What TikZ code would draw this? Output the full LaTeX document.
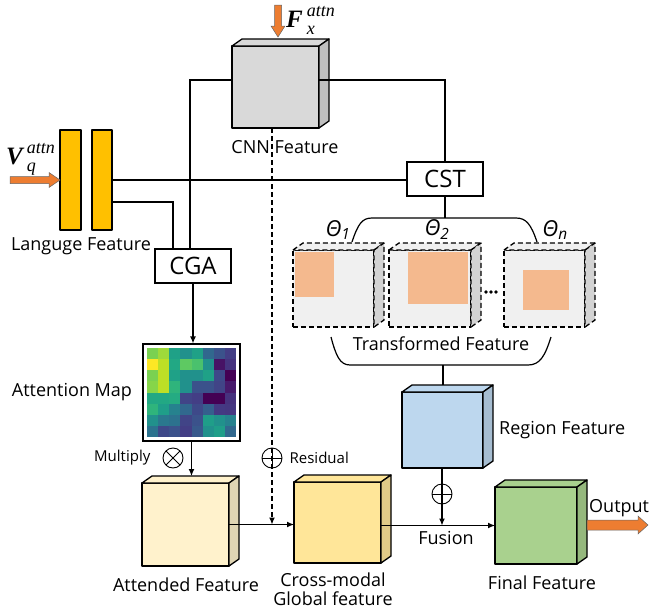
\documentclass[tikz,border=0pt]{standalone}
\usepackage{amsmath,amssymb}
\usepackage{fontspec}
\setmainfont{Open Sans}
\newfontfamily\symfont{Liberation Serif}
\usetikzlibrary{positioning,calc,arrows.meta}

\definecolor{cnngray}{HTML}{D9D9D9}
\definecolor{langyellow}{HTML}{FFC000}
\definecolor{inorange}{HTML}{ED7D31}
\definecolor{patchorange}{HTML}{F4B98E}
\definecolor{tfgray}{HTML}{F0F0F0}
\definecolor{attyellow}{HTML}{FFF2CC}
\definecolor{crossyellow}{HTML}{FFE699}
\definecolor{regionblue}{HTML}{BDD7EE}
\definecolor{finalgreen}{HTML}{A9D18E}

\tikzset{
  cubeedge/.style={draw=black,line width=1.3pt,line join=round},
  cubeface/.style={cubeedge,inner sep=0pt,outer sep=0pt},
  tfdash/.style={dash pattern=on 5pt off 3pt},
  opbox/.style={draw,line width=1.3pt,minimum width=76,minimum height=34,inner sep=0pt,
    font=\fontsize{24}{26}\selectfont},
  lab/.style={font=\fontsize{18}{21}\selectfont,inner sep=1pt},
  smalllab/.style={font=\fontsize{15}{17}\selectfont,inner sep=1pt},
  oplus/.style={circle,draw,line width=0.9pt,minimum size=20,inner sep=0pt,
    path picture={\draw[line width=0.9pt] (path picture bounding box.north) -- (path picture bounding box.south)
      (path picture bounding box.west) -- (path picture bounding box.east);}},
  otimes/.style={circle,draw,line width=0.9pt,minimum size=20,inner sep=0pt,
    path picture={\draw[line width=0.9pt] (path picture bounding box.center) ++(45:12) -- ++(225:24)
      (path picture bounding box.center) ++(135:12) -- ++(315:24);}},
  wire/.style={line width=1.2pt},
  conn/.style={line width=1.2pt,-{Latex[length=7pt,width=6pt]}},
  blockarrow/.style={fill=inorange,draw=black!60,line width=0.5pt},
}

% top and side faces behind a front face node
\newcommand{\cubedepth}[3][solid]{%
  \draw[cubeedge,#1,fill=#3] (#2.north west) -- ++(10,-7) -- ($(#2.north east)+(10,-7)$)
     -- (#2.north east) -- cycle;
  \draw[cubeedge,#1,fill=#3!88!black] (#2.north east) -- ++(10,-7) -- ($(#2.south east)+(10,-7)$)
     -- (#2.south east) -- cycle;
}
% bold letter with attn / index stacked on its right
\newcommand{\attnvar}[2]{{\symfont\fontsize{25}{25}\selectfont\bfseries\itshape #1}%
  \kern4pt\raisebox{1pt}{\symfont\itshape\fontsize{18}{18}\selectfont
  \begin{tabular}{@{}l@{}}attn\\#2\end{tabular}}}

\begin{document}
\begin{tikzpicture}[x=1pt,y=-1pt]
\useasboundingbox (0,0) rectangle (649,614);

%% inputs
\draw[blockarrow] (274.5,5) -- (274.5,26) -- (271,26) -- (278,37) -- (285,26) -- (281.5,26) -- (281.5,5) -- cycle;
\node[anchor=base west,inner sep=0pt] (flab) at (286,27) {\attnvar{F}{x}};

\node[cubeface,fill=cnngray,minimum width=87,minimum height=82] (cnn) at (275.5,87) {};
\cubedepth{cnn}{cnngray}
\node[lab] (cnnlab) at (285,147) {CNN Feature};

\node[cubeface,fill=langyellow,minimum width=21,minimum height=100] (lang1) at (70.5,180) {};
\node[cubeface,fill=langyellow,minimum width=20,minimum height=100] (lang2) at (102,180) {};
\draw[blockarrow] (10,176.5) -- (49,176.5) -- (49,172.5) -- (60,180) -- (49,187.5) -- (49,183.5) -- (10,183.5) -- cycle;
\node[anchor=base west,inner sep=0pt] (vlab) at (6,164) {\attnvar{V}{q}};
\node[lab] (langlab) at (81,246) {Languge Feature};

%% CST branch
\node[opbox] (cst) at (445,179) {CST};
\node[opbox] (cga) at (193,266) {CGA};

\draw[wire] ([yshift=7pt]cnn.west) -| ([xshift=-3pt]cga.north);
\draw[wire] ([yshift=7pt]cnn.east) -| (cst.north);
\draw[wire] (lang2.east) -- (lang2.east -| cst.west);
\draw[wire] ([yshift=-22pt]lang2.east) -| ([xshift=-20pt]cga.north);

\coordinate (tbrace) at (445,218);
\draw[wire] (cst.south) -- (tbrace);
\draw[wire] (352,242) .. controls (358,224) and (362,218) .. (372,218) -- (516,218)
   .. controls (526,218) and (531,224) .. (537,242);

\node[font=\fontsize{22}{24}\selectfont\itshape,inner sep=0pt] (th1) at (338,230) {Θ\textsubscript{1}};
\node[font=\fontsize{22}{24}\selectfont\itshape,inner sep=0pt] (th2) at (437,230) {Θ\textsubscript{2}};
\node[font=\fontsize{22}{24}\selectfont\itshape,inner sep=0pt] (thn) at (555,230) {Θ\textsubscript{n}};

%% transformed features
\node[cubeface,tfdash,fill=tfgray,minimum width=81,minimum height=77] (tf1) at (333.5,288.5) {};
\cubedepth[tfdash]{tf1}{tfgray}
\fill[patchorange] (295,252) rectangle (334,297);
\node[cubeface,tfdash,fill=tfgray,minimum width=82,minimum height=77] (tf2) at (430,288.5) {};
\cubedepth[tfdash]{tf2}{tfgray}
\fill[patchorange] (408,252) rectangle (468,304);
\node[cubeface,tfdash,fill=tfgray,minimum width=81,minimum height=77] (tf3) at (544.5,288.5) {};
\cubedepth[tfdash]{tf3}{tfgray}
\fill[patchorange] (523,270) rectangle (569,310);
\foreach \dx in {486,491,496}
  \fill (\dx,292) circle (1.8);

\draw[wire] (331,337) .. controls (336,356) and (340,365) .. (350,365) -- (528,365)
   .. controls (540,365) and (545,356) .. (551,337);
\node[lab] (tflab) at (441,344) {Transformed Feature};
\coordinate (bbrace) at (443,365);

\node[cubeface,fill=regionblue,minimum width=81,minimum height=76] (region) at (442.5,430) {};
\cubedepth{region}{regionblue}
\draw[wire] (bbrace) -- ([yshift=7pt]region.north -| bbrace);
\node[lab,anchor=west] (reglab) at (498,430) {Region Feature};

%% attention map
\node[draw,line width=1.2pt,fill=white,minimum size=97,inner sep=0pt] (attmap) at (191.5,392.5) {};
\foreach \row [count=\j from 0] in {
  {7AD151,9FDA3A,1FA187,21918C,1FA187,31688E,3B528B,433E85},
  {FDE725,BDDF26,22A884,5EC962,4AC16D,21918C,471365,46337F},
  {7AD151,BDDF26,1FA187,21918C,21918C,1FA187,3E4989,440154},
  {86D549,BDDF26,2FB47C,21918C,3B528B,3B528B,414487,481A6C},
  {22A884,22A884,25AB82,414487,433E85,440154,440154,46327E},
  {2FB47C,1F9E89,26828E,31688E,3E4989,355F8D,443983,453781},
  {21918C,2A788E,2C728E,414487,3B528B,1F9E89,21918C,26828E},
  {2C728E,3E4989,3B528B,433E85,38598C,21918C,1F9E89,31688E}}
  \foreach \c [count=\i from 0] in \row {
    \definecolor{cell}{HTML}{\c}
    \fill[cell] (147+\i*11.125,348+\j*11.125) rectangle ++(11.125,11.125);
  };
\node[lab] (maplab) at (72,392) {Attention Map};
\draw[conn] (cga.south) -- (cga.south |- attmap.north);

%% bottom row
\node[cubeface,fill=attyellow,minimum width=87,minimum height=83] (att) at (185.5,524.5) {};
\cubedepth{att}{attyellow}
\node[lab] (attlab) at (186,585) {Attended Feature};

\node[cubeface,fill=crossyellow,minimum width=87,minimum height=81] (cross) at (337.5,522.5) {};
\cubedepth{cross}{crossyellow}
\node[lab,align=center] (crosslab) at (333,589) {Cross-modal\\[-2pt]Global feature};

\node[cubeface,fill=finalgreen,minimum width=82,minimum height=77] (final) at (536,525.5) {};
\cubedepth{final}{finalgreen}
\node[lab] (finallab) at (542,583) {Final Feature};

\node[otimes] (mult) at (173,458) {};
\node[smalllab,anchor=east] (multlab) at ([xshift=-11pt]mult.west) {Multiply};
\draw[conn] (attmap.south) -- ([yshift=7pt]att.north -| attmap.south);

\node[oplus] (resop) at (272,458) {};
\node[smalllab,anchor=west] (reslab) at ([xshift=6pt]resop.east) {Residual};
\draw[wire,dash pattern=on 5pt off 3pt,-{Latex[length=7pt,width=6pt]}]
  (cnn.south -| resop) -- (resop |- att.east);

\draw[conn] (att.east) -- (att.east -| cross.west);

\node[oplus] (fuseop) at (442,494) {};
\draw[conn] (region.south -| fuseop) -- (fuseop |- final.west);
\draw[conn] (cross.east |- final.west) -- (final.west);
\node[lab] (fuselab) at (446,538) {Fusion};

\draw[blockarrow] (587,520) -- (638,520) -- (638,516) -- (648,525) -- (638,534) -- (638,530) -- (587,530) -- cycle;
\node[lab,anchor=west] (outlab) at (588,508) {Output};

\end{tikzpicture}
\end{document}
